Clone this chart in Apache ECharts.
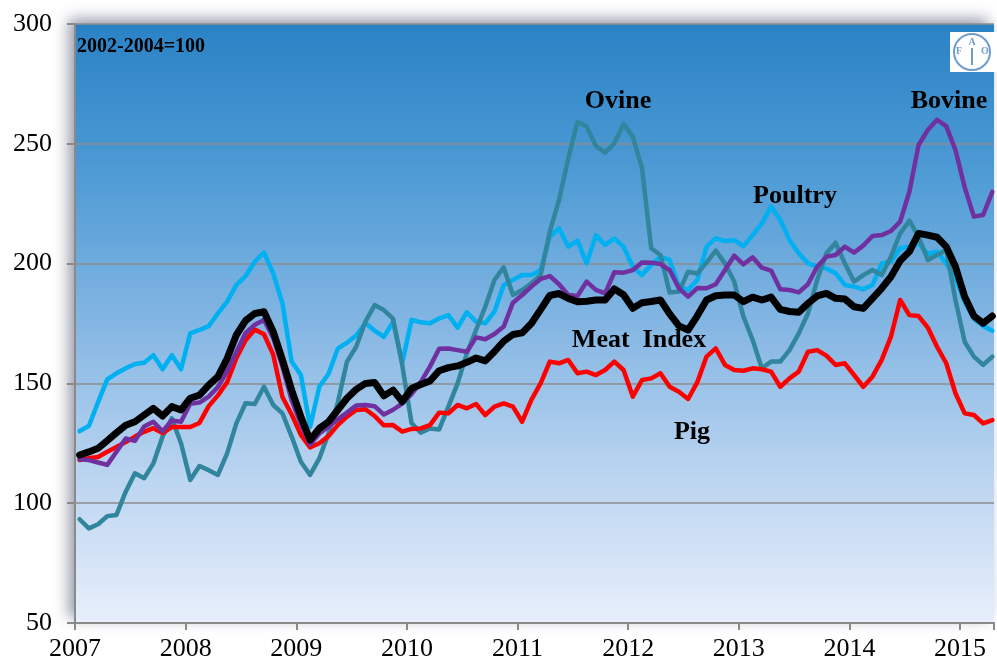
<!DOCTYPE html>
<html>
<head>
<meta charset="utf-8">
<script src="https://cdn.jsdelivr.net/npm/echarts@6/dist/echarts.min.js"></script>
<style>
  html, body { margin: 0; padding: 0; background: #fff; }
  #chart { width: 997px; height: 666px; }
</style>
</head>
<body>
<div id="chart"></div>
<script>
// monthly values, Jan 2007 .. Apr 2015 (2002-2004=100)
var years = [2007, 2008, 2009, 2010, 2011, 2012, 2013, 2014, 2015];
var yTicks = [50, 100, 150, 200, 250, 300];

var meat = [
  120.1, 121.4, 122.9, 126.1, 129.4, 132.5, 134, 136.8, 139.6, 136.4, 140.3, 138.9,
  143.8, 145.1, 149.3, 152.8, 160.4, 170.2, 176.2, 179.2, 179.9, 171.6, 159.8, 147.2,
  136.1, 126.4, 131.2, 134, 138.9, 143.8, 147.5, 150, 150.4, 144.8, 147.2, 142.4,
  147.9, 149.5, 151, 155.3, 156.6, 157.3, 158.8, 160.6, 159.4, 163.3, 167.6, 170.4,
  171.1, 175, 180.8, 186.7, 187.5, 185.5, 184.1, 184.3, 184.8, 184.8, 189.4, 187,
  181.3, 183.7, 184.2, 184.8, 179, 174, 172.3, 178.2, 184.8, 186.6, 186.9, 186.9,
  184.1, 186, 184.8, 186, 180.9, 180, 179.7, 183.4, 186.5, 187.6, 185.5, 185.2,
  182, 181.3, 185.5, 189.7, 194.5, 201.2, 205, 212.6, 211.9, 211, 207.1, 198.7,
  186.2, 178.1, 175.1, 178.1
];
var pig = [
  118, 118.8, 119.3, 121.5, 123.5, 125.5, 127.8, 129.8, 131.3, 129.3, 131.8, 131.8,
  131.8, 133.5, 140.5, 145, 150.5, 160.5, 168, 172.5, 170.5, 162, 144.3, 137,
  128.5, 123.3, 125, 128, 132.6, 136.1, 138.9, 139.2, 136.4, 132.5, 132.6, 129.9,
  131, 131.2, 132.6, 137.8, 137.5, 141, 139.6, 141.4, 136.8, 140.3, 141.7, 140.3,
  134, 143.1, 150, 159.1, 158.4, 159.8, 154.2, 154.9, 153.5, 155.6, 159.1, 155.6,
  144.5, 151.4, 152.1, 154.2, 148.6, 146.5, 143.5, 150.5, 161.2, 164.6, 157.7, 155.6,
  155.3, 156.3, 155.9, 154.9, 148.6, 152.1, 154.9, 163.2, 163.9, 161.6, 157.7, 158.4,
  153.5, 148.6, 152.8, 159.8, 169.5, 184.8, 178.5, 178.1, 173.3, 165.3, 158.4, 145.9,
  137.5, 136.8, 133.3, 134.7
];
var bovine = [
  118.3, 118, 117, 116, 121.5, 127, 126, 132, 134, 130, 134.5, 134,
  141.5, 142, 144.5, 148.5, 155, 163, 171, 174.5, 176.5, 169, 157, 143,
  133, 124.5, 129.1, 131.9, 135, 137.8, 140.8, 141, 140.5, 137, 139, 141.6,
  145.5, 150.5, 157, 164.5, 164.6, 163.9, 163.2, 169.2, 168.4, 170.6, 173.7, 183.7,
  186.9, 190.4, 193.6, 194.8, 191.4, 186.9, 186.5, 192.5, 189, 187.6, 196.4, 196.2,
  197.3, 200.5, 200.4, 199.8, 197.3, 189.7, 186.2, 189.8, 189.7, 191.4, 197.3, 203.3,
  199.7, 202.6, 198.3, 197.1, 189.3, 189, 188, 191.4, 198.7, 202.9, 203.6, 207.1,
  204.6, 207.5, 211.5, 211.9, 213.6, 217.5, 230, 249.5, 255.8, 260, 257.4, 247.4,
  231.8, 219.6, 220.3, 230
];
var ovine = [
  93.3, 89.5, 91.2, 94.6, 95.1, 104.8, 112.5, 110.4, 116.6, 127.8, 135.4, 125,
  109.7, 115.5, 113.8, 111.8, 120.8, 133.3, 141.7, 141.4, 148.6, 141, 137.5, 127.8,
  117.3, 111.8, 118.7, 129.1, 141.9, 159.1, 165.3, 175.8, 182.7, 180.6, 177, 157.5,
  133.5, 129.4, 131.2, 130.8, 140.3, 150, 162.5, 172.3, 182, 193.2, 198.4, 186.9,
  189, 191.8, 195.2, 213.3, 226.5, 243.9, 259.2, 257.2, 249.1, 246.3, 250.2, 258.3,
  253, 239.8, 206.4, 203.6, 187.9, 188.3, 196.6, 195.9, 200.4, 205.4, 200.1, 192.5,
  177.9, 168.1, 156.3, 159.1, 159.1, 163.9, 170.9, 179.2, 193.2, 204.3, 208.7, 200.1,
  192.5, 195.2, 197.3, 195.2, 202.9, 212.6, 217.9, 211.2, 201.5, 203.6, 205.7, 184.8,
  167.4, 161.2, 157.7, 161.2
];
var poultry = [
  130.1, 132.2, 142.2, 151.7, 154.2, 156.3, 158.1, 158.6, 161.8, 155.9, 161.8, 155.9,
  170.9, 172.3, 173.9, 179.2, 184.1, 191.1, 194.8, 200.8, 204.6, 195.9, 183.4, 159.1,
  153.5, 131.9, 148.6, 154, 164.5, 167, 170, 175.2, 172, 169.4, 175.7, 158.6,
  176.5, 175.5, 175.1, 177.1, 178.5, 173.3, 179.7, 175.8, 175.1, 180, 191.1, 193.2,
  195.2, 195.2, 197.3, 211.2, 214.7, 207.1, 209.6, 200.1, 211.9, 207.8, 210.5, 207.1,
  198.7, 195.2, 199.4, 202.9, 201.5, 190.4, 189, 193.2, 207.1, 210.6, 209.4, 209.8,
  207.3, 211.9, 216.8, 223.8, 218.2, 209.8, 204.3, 200.1, 198.7, 198, 196, 191.1,
  190.4, 189.3, 191.1, 200.1, 200.8, 206.4, 207.1, 208.5, 204, 205, 200, 194,
  184, 177, 174, 172
];

var font = "'Liberation Serif', 'Times New Roman', serif";

// each month sits in the middle of its slot on the time axis
function toPoints(arr) {
  return arr.map(function (v, i) { return [i + 0.5, v]; });
}

function lineSeries(name, data, color, width) {
  return {
    name: name,
    type: "line",
    data: toPoints(data),
    symbol: "none",
    smooth: false,
    animation: false,
    lineStyle: { color: color, width: width, join: "round", cap: "round" }
  };
}

var chart = echarts.init(document.getElementById("chart"));

var option = {
  backgroundColor: "#ffffff",
  animation: false,
  grid: {
    left: 75,
    right: 0,
    top: 24,
    bottom: 43,
    show: true,
    borderWidth: 0,
    backgroundColor: {
      type: "linear", x: 0, y: 0, x2: 0, y2: 1,
      colorStops: [
        { offset: 0, color: "#2A82C5" },
        { offset: 0.25, color: "#4E9BD5" },
        { offset: 0.5, color: "#84B6E3" },
        { offset: 0.75, color: "#BAD4F0" },
        { offset: 1, color: "#E8EFFB" }
      ]
    },
    shadowColor: "rgba(40,50,80,0.5)",
    shadowBlur: 14,
    shadowOffsetX: -6,
    shadowOffsetY: -5
  },
  xAxis: {
    type: "value",
    min: 0,
    max: 99.68,
    interval: 12,
    axisLine: { show: true, lineStyle: { color: "#8a8a8a", width: 2 } },
    axisTick: { show: true, length: 7, lineStyle: { color: "#8a8a8a", width: 2 } },
    splitLine: { show: false },
    axisLabel: {
      margin: 13,
      fontFamily: font,
      fontSize: 26,
      color: "#000",
      formatter: function (v) {
        if (Math.abs(v % 12) < 1e-6) return String(years[0] + v / 12);
        return "";
      }
    }
  },
  yAxis: {
    type: "value",
    min: yTicks[0],
    max: yTicks[yTicks.length - 1],
    interval: 50,
    axisLine: { show: true, lineStyle: { color: "#8a8a8a", width: 2 } },
    axisTick: { show: true, length: 8, lineStyle: { color: "#8a8a8a", width: 2 } },
    splitLine: { show: true, lineStyle: { color: "#8c8c8c", width: 1.5 } },
    axisLabel: {
      margin: 23,
      fontFamily: font,
      fontSize: 26,
      color: "#000"
    }
  },
  series: [
    lineSeries("Poultry", poultry, "#00B0F0", 4.5),
    lineSeries("Ovine", ovine, "#31859C", 4.5),
    lineSeries("Pig", pig, "#FF0000", 4.5),
    lineSeries("Bovine", bovine, "#7030A0", 4.5),
    lineSeries("Meat Index", meat, "#000000", 7)
  ],
  graphic: [
    {
      type: "text", left: 77, top: 37, z: 10,
      style: { text: "2002-2004=100", font: "bold 20px " + font, fill: "#000" }
    },
    {
      type: "text", x: 618, y: 101, z: 10,
      style: { text: "Ovine", font: "bold 26px " + font, fill: "#000", align: "center", verticalAlign: "middle" }
    },
    {
      type: "text", x: 949, y: 101, z: 10,
      style: { text: "Bovine", font: "bold 26px " + font, fill: "#000", align: "center", verticalAlign: "middle" }
    },
    {
      type: "text", x: 795, y: 196, z: 10,
      style: { text: "Poultry", font: "bold 26px " + font, fill: "#000", align: "center", verticalAlign: "middle" }
    },
    {
      type: "text", x: 639, y: 340, z: 10,
      style: { text: "Meat  Index", font: "bold 26px " + font, fill: "#000", align: "center", verticalAlign: "middle" }
    },
    {
      type: "text", x: 692, y: 432, z: 10,
      style: { text: "Pig", font: "bold 26px " + font, fill: "#000", align: "center", verticalAlign: "middle" }
    },
    // FAO emblem (simplified)
    {
      type: "group", x: 950, y: 32, z: 10,
      children: [
        { type: "rect", shape: { x: 0, y: 0, width: 47, height: 40 }, style: { fill: "#ffffff" } },
        { type: "circle", shape: { cx: 22, cy: 20, r: 18 }, style: { fill: "#ffffff", stroke: "#6f9bd1", lineWidth: 2 } },
        { type: "text", x: 9, y: 19, style: { text: "F", font: "bold 10px " + font, fill: "#6f9bd1", align: "center", verticalAlign: "middle" } },
        { type: "text", x: 22, y: 10, style: { text: "A", font: "bold 10px " + font, fill: "#6f9bd1", align: "center", verticalAlign: "middle" } },
        { type: "text", x: 35, y: 19, style: { text: "O", font: "bold 10px " + font, fill: "#6f9bd1", align: "center", verticalAlign: "middle" } },
        { type: "line", shape: { x1: 22, y1: 16, x2: 22, y2: 33 }, style: { stroke: "#6f9bd1", lineWidth: 2 } }
      ]
    }
  ]
};

chart.setOption(option);
</script>
</body>
</html>
